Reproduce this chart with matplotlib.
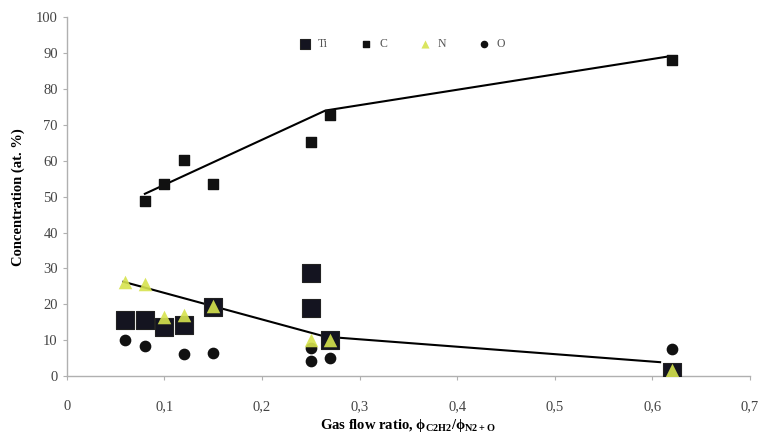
import matplotlib
matplotlib.use('Agg')
import matplotlib.pyplot as plt

# Composition of the films vs. gas flow ratio (at. %)
ti_x = [0.06, 0.08, 0.10, 0.12, 0.15, 0.25, 0.25, 0.27, 0.62]
ti_y = [15.6, 15.6, 13.7, 14.3, 19.2, 28.8, 19.0, 10.0, 1.3]

c_x = [0.08, 0.10, 0.12, 0.15, 0.25, 0.27, 0.62]
c_y = [48.8, 53.5, 60.3, 53.5, 65.3, 72.8, 88.0]

n_x = [0.06, 0.08, 0.10, 0.12, 0.15, 0.25, 0.27, 0.62]
n_y = [26.3, 25.6, 16.5, 17.0, 19.6, 10.0, 10.2, 1.8]

o_x = [0.06, 0.08, 0.12, 0.15, 0.25, 0.25, 0.27, 0.62]
o_y = [10.0, 8.4, 6.2, 6.4, 7.8, 4.1, 5.2, 7.5]

# hand-drawn trend lines
c_trend_x = [0.08, 0.265, 0.615]
c_trend_y = [50.8, 74.0, 89.0]
tin_trend_x = [0.058, 0.15, 0.265, 0.608]
tin_trend_y = [26.3, 19.5, 11.0, 3.9]

x_ticks = [0, 0.1, 0.2, 0.3, 0.4, 0.5, 0.6, 0.7]
y_ticks = list(range(0, 101, 10))

plt.rcParams['font.family'] = ['Liberation Serif', 'DejaVu Serif']
plt.rcParams['mathtext.fontset'] = 'custom'
plt.rcParams['mathtext.rm'] = 'Liberation Serif'
plt.rcParams['mathtext.bf'] = 'Liberation Serif:bold'

fig = plt.figure(figsize=(7.59, 4.41), dpi=100)
ax = fig.add_axes([0.088, 0.147, 0.9, 0.814])

ax.plot(c_trend_x, c_trend_y, color='black', lw=1.5, zorder=2)
ax.plot(tin_trend_x, tin_trend_y, color='black', lw=1.5, zorder=2)

ax.scatter(ti_x, ti_y, marker='s', s=150, color='#141420', edgecolors='#222222', linewidths=0.8, label='Ti', zorder=3)
ax.scatter(c_x, c_y, marker='s', s=45, color='#111111', label='C', zorder=3)
ax.scatter(n_x, n_y, marker='^', s=95, color='#d6e34e', alpha=0.9, linewidths=0, label='N', zorder=4)
ax.scatter(o_x, o_y, marker='o', s=55, color='#111111', label='O', zorder=3)

ax.set_xlim(0, 0.7)
ax.set_ylim(0, 100)
ax.set_xticks(x_ticks)
ax.set_xticklabels([('%g' % v).replace('.', ',') for v in x_ticks])
ax.set_yticks(y_ticks)

for side in ['top', 'right']:
    ax.spines[side].set_visible(False)
for side in ['left', 'bottom']:
    ax.spines[side].set_color('#b0b0b0')
    ax.spines[side].set_linewidth(1.0)
ax.tick_params(axis='both', colors='#b0b0b0', labelcolor='#444444', labelsize=10.5, length=3, direction='out')
ax.tick_params(axis='x', pad=14)

ax.set_xlabel(r'Gas flow ratio, $\mathbf{\phi_{C2H2}/\phi_{N2+O}}$', fontsize=10.5, fontweight='bold', labelpad=3)
ax.set_ylabel('Concentration (at. %)', fontsize=10.5, fontweight='bold', labelpad=8)

leg = ax.legend(loc='center', bbox_to_anchor=(0.487, 0.925), ncol=4, frameon=False,
                fontsize=8.5, handletextpad=0.1, columnspacing=2.2, markerscale=0.6,
                scatterpoints=1)
for t in leg.get_texts():
    t.set_color('#555555')

fig.savefig('out.png', dpi=100)
